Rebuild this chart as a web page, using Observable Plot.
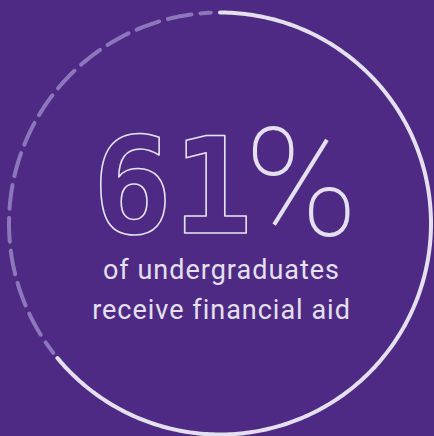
<!DOCTYPE html>
<html>
<head>
<meta charset="utf-8">
<script src="https://cdn.jsdelivr.net/npm/d3@7"></script>
<script src="https://cdn.jsdelivr.net/npm/@observablehq/plot@0.6"></script>
<style>
  html, body { margin: 0; padding: 0; background: #4E2A84; }
  #chart svg g.caption text { letter-spacing: 1px; }
</style>
</head>
<body>
<div id="chart"></div>
<script>
// ---- data ----
const headlineValue = "61";
const headlineUnit = "%";
const captionLines = ["of undergraduates", "receive financial aid"];
// ring segments, as fractions of a full turn (clockwise from 12 o'clock)
const segmentNames = ["solid", "dashed"];
const segmentStart = [0, 0.645];
const segmentEnd = [0.64, 0.993];

// ---- build ring paths from the segment fractions ----
const ring = [];
segmentNames.forEach((name, i) => {
  const n = 300;
  for (let k = 0; k <= n; k++) {
    const t = segmentStart[i] + (segmentEnd[i] - segmentStart[i]) * k / n;
    ring.push({seg: name, x: Math.sin(2 * Math.PI * t), y: Math.cos(2 * Math.PI * t)});
  }
});

const light = "#E4E0EE";
const medium = "#8C76BC";

const chart = Plot.plot({
  width: 434,
  height: 436,
  margin: 0,
  x: {domain: [-1, 1], range: [8.5, 430.5], axis: null},
  y: {domain: [-1, 1], range: [434, 12], axis: null},
  style: {background: "#4E2A84"},
  marks: [
    Plot.line(ring.filter(d => d.seg === "dashed"), {
      x: "x", y: "y", stroke: medium, strokeWidth: 4,
      strokeLinecap: "round", strokeDasharray: "24 9", strokeDashoffset: 11
    }),
    Plot.line(ring.filter(d => d.seg === "solid"), {
      x: "x", y: "y", stroke: light, strokeWidth: 4, strokeLinecap: "round"
    }),
    Plot.text([headlineValue], {
      text: d => d, frameAnchor: "middle", textAnchor: "end", lineAnchor: "bottom",
      dx: 35, dy: 14, fontSize: 133, fontWeight: "bold",
      fontFamily: "DejaVu Sans Mono", fill: "none", stroke: light, strokeWidth: 1.6
    }),
    Plot.text([headlineUnit], {
      text: d => d, frameAnchor: "middle", textAnchor: "start", lineAnchor: "bottom",
      dx: 27, dy: 16, fontSize: 152, fontWeight: 100,
      fontFamily: "Roboto", fill: light
    }),
    Plot.text([captionLines.join("\n")], {
      text: d => d, frameAnchor: "middle", textAnchor: "middle", lineAnchor: "bottom",
      dx: 4, dy: 100, fontSize: 27, lineHeight: 1.48,
      fontFamily: "Roboto", fill: light, className: "caption"
    })
  ]
});
document.getElementById("chart").appendChild(chart);
</script>
</body>
</html>
